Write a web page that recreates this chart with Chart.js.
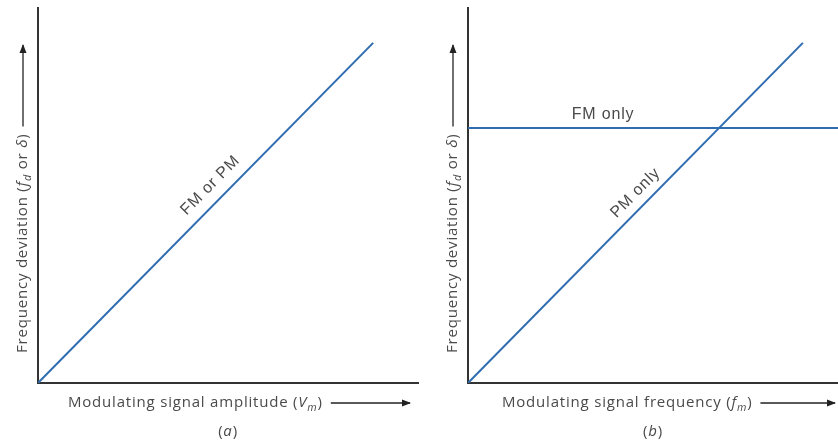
<!DOCTYPE html>
<html>
<head>
<meta charset="utf-8">
<script src="https://cdn.jsdelivr.net/npm/chart.js@4.4.0/dist/chart.umd.min.js"></script>
<style>
html, body { margin: 0; padding: 0; background: #fff; }
#wrap { position: relative; width: 838px; height: 442px; }
canvas { position: absolute; top: 0; }
</style>
</head>
<body>
<div id="wrap">
  <canvas id="chartA" width="419" height="442" style="left:0"></canvas>
  <canvas id="chartB" width="419" height="442" style="left:419px"></canvas>
</div>
<script>
// values in arbitrary units, 0..100 on both axes (no ticks shown)
const ampX = [0, 88.2]
const ampY = [0, 90.7]

const pmX = [0, 90.5]
const pmY = [0, 90.7]
const fmX = [0, 100]
const fmY = [68, 68]

const lineBlue = '#2f6cb0'
const axisColor = '#333'
const textColor = '#4a4a4a'
const fontFam = '"Open Sans", "DejaVu Sans", sans-serif'
const noteFam = '"Liberation Sans", Arial, sans-serif'

function pts(xs, ys){
    return xs.map((x, i) => ({x: x, y: ys[i]}))
}

// draw text made of parts (italic / subscript), left aligned, returns width
function drawParts(ctx, parts, x, y, size, measureOnly){
    let cx = x
    ctx.letterSpacing = '0.8px'
    for (const p of parts){
        let s = p.sub ? size * 0.72 : size
        ctx.font = (p.it ? 'italic ' : '') + s + 'px ' + fontFam
        if (!measureOnly){
            ctx.fillText(p.t, cx, y + (p.sub ? size * 0.3 : 0))
        }
        cx += ctx.measureText(p.t).width
    }
    ctx.letterSpacing = '0px'
    return cx - x
}

function arrow(ctx, x0, y0, x1, y1){
    ctx.beginPath()
    ctx.moveTo(x0, y0)
    ctx.lineTo(x1, y1)
    ctx.stroke()
    let a = Math.atan2(y1 - y0, x1 - x0)
    ctx.save()
    ctx.translate(x1, y1)
    ctx.rotate(a)
    ctx.beginPath()
    ctx.moveTo(1, 0)
    ctx.lineTo(-8, -3.5)
    ctx.lineTo(-8, 3.5)
    ctx.closePath()
    ctx.fill()
    ctx.restore()
}

const figLabels = {
    id: 'figLabels',
    afterDraw(chart, args, opts){
        const ctx = chart.ctx
        const area = chart.chartArea
        const size = 15
        ctx.save()
        ctx.fillStyle = textColor
        ctx.strokeStyle = '#222'
        ctx.lineWidth = 1.3
        ctx.textBaseline = 'middle'
        ctx.textAlign = 'left'

        // x axis title + arrow
        let xy = area.bottom + 20
        let w = drawParts(ctx, opts.xParts, area.left + opts.xStart, xy, size)
        ctx.fillStyle = '#222'
        arrow(ctx, area.left + opts.xStart + w + 8, xy, area.right - opts.xArrowGap, xy)

        // y axis title + arrow (rotated)
        ctx.save()
        ctx.translate(area.left - 15, area.bottom - 30)
        ctx.rotate(-Math.PI / 2)
        ctx.fillStyle = textColor
        let wy = drawParts(ctx, opts.yParts, 0, 0, size)
        ctx.fillStyle = '#222'
        arrow(ctx, wy + 7, 0, (area.bottom - 30) - (area.top + 37), 0)
        ctx.restore()

        // caption (a) / (b)
        ctx.fillStyle = textColor
        let cw = drawParts(ctx, opts.caption, 0, 0, size, true)
        drawParts(ctx, opts.caption, (area.left + area.right) / 2 - cw / 2, area.bottom + 49, size)

        // labels along the lines
        for (const n of opts.notes){
            const meta = chart.getDatasetMeta(n.ds)
            const p0 = meta.data[0], p1 = meta.data[1]
            const px = p0.x + (p1.x - p0.x) * n.t
            const py = p0.y + (p1.y - p0.y) * n.t
            const ang = Math.atan2(p1.y - p0.y, p1.x - p0.x)
            ctx.save()
            ctx.translate(px, py)
            ctx.rotate(ang)
            ctx.font = '16px ' + noteFam
            ctx.letterSpacing = '0.8px'
            ctx.textAlign = 'center'
            ctx.fillStyle = textColor
            ctx.fillText(n.text, 0, -n.off)
            ctx.restore()
        }
        ctx.restore()
    }
}

function axisOpts(){
    return {
        type: 'linear',
        min: 0,
        max: 100,
        ticks: { display: false },
        grid: { display: false, drawTicks: false },
        border: { display: true, color: axisColor, width: 2 }
    }
}

function makeChart(id, datasets, pad, labelOpts){
    return new Chart(id, {
        type: 'scatter',
        data: { datasets: datasets },
        options: {
            responsive: false,
            animation: false,
            layout: { padding: pad },
            plugins: {
                legend: { display: false },
                tooltip: { enabled: false },
                figLabels: labelOpts
            },
            scales: { x: axisOpts(), y: axisOpts() }
        },
        plugins: [figLabels]
    })
}

function lineSet(xs, ys){
    return {
        data: pts(xs, ys),
        showLine: true,
        borderColor: lineBlue,
        borderWidth: 2,
        pointRadius: 0
    }
}

const yTitle = [
    { t: 'Frequency deviation (' },
    { t: 'f', it: true },
    { t: 'd', it: true, sub: true },
    { t: ' or ' },
    { t: 'δ', it: true },
    { t: ')' }
]

makeChart('chartA', [lineSet(ampX, ampY)],
    { left: 38, right: 1, top: 8, bottom: 59 },
    {
        xParts: [{ t: 'Modulating signal amplitude (' }, { t: 'V', it: true }, { t: 'm', it: true, sub: true }, { t: ')' }],
        yParts: yTitle,
        xStart: 30,
        xArrowGap: 8,
        caption: [{ t: '(' }, { t: 'a', it: true }, { t: ')' }],
        notes: [{ ds: 0, text: 'FM or PM', t: 0.548, off: 16 }]
    })

makeChart('chartB', [lineSet(pmX, pmY), lineSet(fmX, fmY)],
    { left: 49, right: 0, top: 8, bottom: 59 },
    {
        xParts: [{ t: 'Modulating signal frequency (' }, { t: 'f', it: true }, { t: 'm', it: true, sub: true }, { t: ')' }],
        yParts: yTitle,
        xStart: 34,
        xArrowGap: 3,
        caption: [{ t: '(' }, { t: 'b', it: true }, { t: ')' }],
        notes: [
            { ds: 0, text: 'PM only', t: 0.53, off: 14 },
            { ds: 1, text: 'FM only', t: 0.365, off: 13 }
        ]
    })
</script>
</body>
</html>
